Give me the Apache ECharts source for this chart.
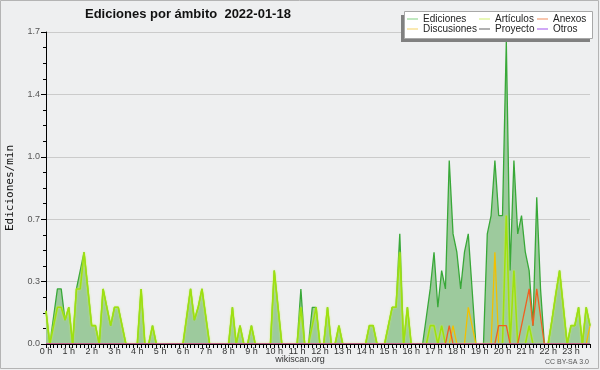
<!DOCTYPE html>
<html>
<head>
<meta charset="utf-8">
<script src="https://cdn.jsdelivr.net/npm/echarts@6/dist/echarts.min.js"></script>
<style>html,body{margin:0;padding:0;background:#eeeff0}#c{width:600px;height:370px}</style>
</head>
<body>
<div id="c"></div>
<script>
// hour tick labels
const hourLabels = ['0 h','1 h','2 h','3 h','4 h','5 h','6 h','7 h','8 h','9 h','10 h','11 h',
  '12 h','13 h','14 h','15 h','16 h','17 h','18 h','19 h','20 h','21 h','22 h','23 h'];
// y tick values
const yTicks = [0, 0.34, 0.68, 1.02, 1.36, 1.7];

// edits per minute, 10-minute buckets (144)
const ediciones = [
0.18,0,0.15,0.3,0.3,0.13,0.2,0,0.3,0.4,
0.5,0.3,0.1,0.1,0,0.3,0.2,0.1,0.2,0.2,
0.1,0,0,0,0,0.3,0,0,0.1,0,
0,0,0,0,0,0,0,0.15,0.3,0.13,
0.2,0.3,0.15,0,0,0,0,0,0,0.2,
0,0.1,0,0,0.1,0,0,0,0,0,
0.4,0.2,0,0,0,0,0,0.3,0,0,
0.2,0.2,0,0,0.2,0,0,0.1,0,0,
0,0,0,0,0,0.1,0.1,0,0,0,
0.1,0.2,0.2,0.6,0,0.2,0,0,0,0,
0.15,0.3,0.5,0.2,0.4,0.3,1.0,0.6,0.5,0.3,
0.5,0.6,0.3,0,0,0,0.6,0.7,1.0,0.7,
0.7,1.65,0.4,1.0,0.6,0.7,0.5,0.4,0.1,0.8,
0.3,0,0,0.13,0.27,0.4,0.2,0,0.1,0.1,
0.2,0,0.2,0.1];
const articulos = [
0.18,0,0.1,0.2,0.2,0.13,0.2,0,0.3,0.3,
0.5,0.3,0.1,0.1,0,0.3,0.2,0.1,0.2,0.2,
0.1,0,0,0,0,0.3,0,0,0.1,0,
0,0,0,0,0,0,0,0.15,0.3,0.13,
0.2,0.3,0.15,0,0,0,0,0,0,0.2,
0,0.1,0,0,0.1,0,0,0,0,0,
0.4,0.2,0,0,0,0,0,0.2,0,0,
0.1,0.2,0,0,0.2,0,0,0.1,0,0,
0,0,0,0,0,0.1,0.1,0,0,0,
0.1,0.2,0.2,0.5,0,0.2,0,0,0,0,
0,0.1,0.1,0,0.1,0,0,0,0,0,
0,0,0,0,0,0,0,0,0,0,
0,0.7,0,0.4,0,0,0,0.1,0,0,
0,0,0,0.13,0.27,0.4,0.2,0,0.1,0.1,
0.2,0,0.2,0.1];
const discusiones = [
0,0,0,0,0,0,0,0,0,0,
0,0,0,0,0,0,0,0,0,0,
0,0,0,0,0,0,0,0,0,0,
0,0,0,0,0,0,0,0,0,0,
0,0,0,0,0,0,0,0,0,0,
0,0,0,0,0,0,0,0,0,0,
0,0,0,0,0,0,0,0,0,0,
0,0,0,0,0,0,0,0,0,0,
0,0,0,0,0,0,0,0,0,0,
0,0,0,0,0,0,0,0,0,0,
0,0,0,0,0,0,0,0.1,0,0,
0,0.2,0.1,0,0,0,0,0,0.5,0,
0,0,0,0,0,0,0,0,0,0,
0,0,0,0,0,0,0,0,0,0,
0,0,0,0.1];
const anexos = [
0,0,0,0,0,0,0,0,0,0,
0,0,0,0,0,0,0,0,0,0,
0,0,0,0,0,0,0,0,0,0,
0,0,0,0,0,0,0,0,0,0,
0,0,0,0,0,0,0,0,0,0,
0,0,0,0,0,0,0,0,0,0,
0,0,0,0,0,0,0,0,0,0,
0,0,0,0,0,0,0,0,0,0,
0,0,0,0,0,0,0,0,0,0,
0,0,0,0,0,0,0,0,0,0,
0,0,0,0,0,0,0.1,0,0,0,
0,0,0,0,0,0,0,0,0,0.1,
0.1,0.1,0,0,0,0.1,0.2,0.3,0.1,0.3,
0.15,0,0,0,0,0,0,0,0,0,
0,0,0,0];
const proyecto = [
0,0,0,0,0,0,0,0,0,0, 0,0,0,0,0,0,0,0,0,0, 0,0,0,0,0,0,0,0,0,0,
0,0,0,0,0,0,0,0,0,0, 0,0,0,0,0,0,0,0,0,0, 0,0,0,0,0,0,0,0,0,0,
0,0,0,0,0,0,0,0,0,0, 0,0,0,0,0,0,0,0,0,0, 0,0,0,0,0,0,0,0,0,0,
0,0,0,0,0,0,0,0,0,0, 0,0,0,0,0,0,0,0,0,0, 0,0,0,0,0,0,0,0,0,0,
0,0,0,0,0,0,0,0,0,0, 0,0,0,0,0,0,0,0,0,0, 0,0,0,0];
const otros = [
0,0,0,0,0,0,0,0,0,0, 0,0,0,0,0,0,0,0,0,0, 0,0,0,0,0,0,0,0,0,0,
0,0,0,0,0,0,0,0,0,0, 0,0,0,0,0,0,0,0,0,0, 0,0,0,0,0,0,0,0,0,0,
0,0,0,0,0,0,0,0,0,0, 0,0,0,0,0,0,0,0,0,0, 0,0,0,0,0,0,0,0,0,0,
0,0,0,0,0,0,0,0,0,0, 0,0,0,0,0,0,0,0,0,0, 0,0,0,0,0,0,0,0,0,0,
0,0,0,0,0,0,0,0,0,0, 0,0,0,0,0,0,0,0,0,0, 0,0,0,0];

// categories: one per 10 minutes, labelled every hour
const categories = [];
hourLabels.forEach(function (h, hi) {
  for (let m = 0; m < 6; m++) categories.push(hi + ':' + m + '0');
});

const chart = echarts.init(document.getElementById('c'), null, {renderer: 'canvas'});
const legendCommon = {
  orient: 'vertical', top: 14, icon: 'rect', itemWidth: 11, itemHeight: 1,
  itemGap: 0, itemTextGap: 6, padding: 0, selectedMode: false, z: 20,
  textStyle: {fontSize: 10, lineHeight: 10, fontFamily: 'Liberation Sans', color: '#222'}
};
const option = {
  backgroundColor: '#eeeff0',
  animation: false,
  grid: {left: 46, right: 10, top: 32, bottom: 26},
  legend: [
    Object.assign({left: 407, data: [
      {name: 'Ediciones', itemStyle: {color: '#80d080'}},
      {name: 'Discusiones', itemStyle: {color: '#f5d264'}}]}, legendCommon),
    Object.assign({left: 479, data: [
      {name: 'Artículos', itemStyle: {color: '#d0f070'}},
      {name: 'Proyecto', itemStyle: {color: '#606060'}}]}, legendCommon),
    Object.assign({left: 537, data: [
      {name: 'Anexos', itemStyle: {color: '#f08c5c'}},
      {name: 'Otros', itemStyle: {color: '#a050ec'}}]}, legendCommon)
  ],
  xAxis: {
    type: 'category', data: categories, boundaryGap: false, z: 5,
    axisLine: {lineStyle: {color: '#000', width: 1}},
    axisTick: {interval: 0, length: 4, lineStyle: {color: '#000'}},
    axisLabel: {interval: 5, margin: 3, fontSize: 9, fontFamily: 'Liberation Sans', color: '#333',
      formatter: function (v) { return hourLabels[parseInt(v.split(':')[0], 10)]; }},
    splitLine: {show: false}
  },
  yAxis: {
    type: 'value', min: 0, max: 1.7, interval: 0.34,
    axisLine: {show: true, lineStyle: {color: '#000'}},
    axisTick: {show: true, length: 5, lineStyle: {color: '#000'}},
    minorTick: {show: true, splitNumber: 4, length: 3, lineStyle: {color: '#000'}},
    axisLabel: {margin: 6, fontSize: 9, fontFamily: 'Liberation Sans', color: '#555',
      formatter: function (v) { return v.toFixed(1); }},
    splitLine: {show: true, lineStyle: {color: '#cbcbcb', width: 1}}
  },
  series: [
    {name: 'Ediciones', type: 'line', data: ediciones, symbol: 'none', z: 2,
      itemStyle: {color: '#80d080'},
      lineStyle: {color: '#38a838', width: 1.3},
      areaStyle: {color: '#9dca9d', opacity: 1}},
    {name: 'Discusiones', type: 'line', data: discusiones, symbol: 'none', z: 3,
      itemStyle: {color: '#f5d264'}, lineStyle: {color: '#f2c000', width: 1.3}},
    {name: 'Artículos', type: 'line', data: articulos, symbol: 'none', z: 3,
      itemStyle: {color: '#d0f070'},
      lineStyle: {color: '#9ee010', width: 1.6, shadowColor: 'rgba(205,245,90,0.9)', shadowBlur: 2}},
    {name: 'Proyecto', type: 'line', data: proyecto, symbol: 'none', z: 3,
      itemStyle: {color: '#606060'}, lineStyle: {color: '#606060', width: 1}},
    {name: 'Anexos', type: 'line', data: anexos, symbol: 'none', z: 3,
      itemStyle: {color: '#f08c5c'}, lineStyle: {color: '#f06020', width: 1.3}},
    {name: 'Otros', type: 'line', data: otros, symbol: 'none', z: 3,
      itemStyle: {color: '#a050ec'}, lineStyle: {color: '#a050ec', width: 1}}
  ],
  graphic: [
    {type: 'rect', z: 1, silent: true, shape: {x: 0.5, y: 0.5, width: 598, height: 368},
      style: {fill: 'none', stroke: '#b4b4b4', lineWidth: 1}},
    {type: 'text', z: 10, x: 85, y: 14, style: {text: 'Ediciones por ámbito  2022-01-18',
      font: 'bold 13px "Liberation Sans"', fill: '#111', textVerticalAlign: 'middle'}},
    {type: 'text', z: 10, x: 10, y: 188, rotation: Math.PI / 2, style: {text: 'Ediciones/min',
      font: '11px "DejaVu Sans Mono"', fill: '#111', textAlign: 'center', textVerticalAlign: 'middle'}},
    {type: 'rect', z: 15, shape: {x: 401, y: 15, width: 189, height: 27}, style: {fill: '#808080'}},
    {type: 'rect', z: 16, shape: {x: 404.5, y: 11.5, width: 188, height: 27},
      style: {fill: '#ffffff', stroke: '#a8a8a8', lineWidth: 1}},
    {type: 'text', z: 10, x: 300, y: 360, style: {text: 'wikiscan.org',
      font: '9px "Liberation Sans"', fill: '#333', textAlign: 'center', textVerticalAlign: 'middle'}},
    {type: 'text', z: 10, x: 589, y: 362, style: {text: 'CC BY-SA 3.0',
      font: '7px "Liberation Sans"', fill: '#555', textAlign: 'right', textVerticalAlign: 'middle'}}
  ]
};
chart.setOption(option);
</script>
</body>
</html>
